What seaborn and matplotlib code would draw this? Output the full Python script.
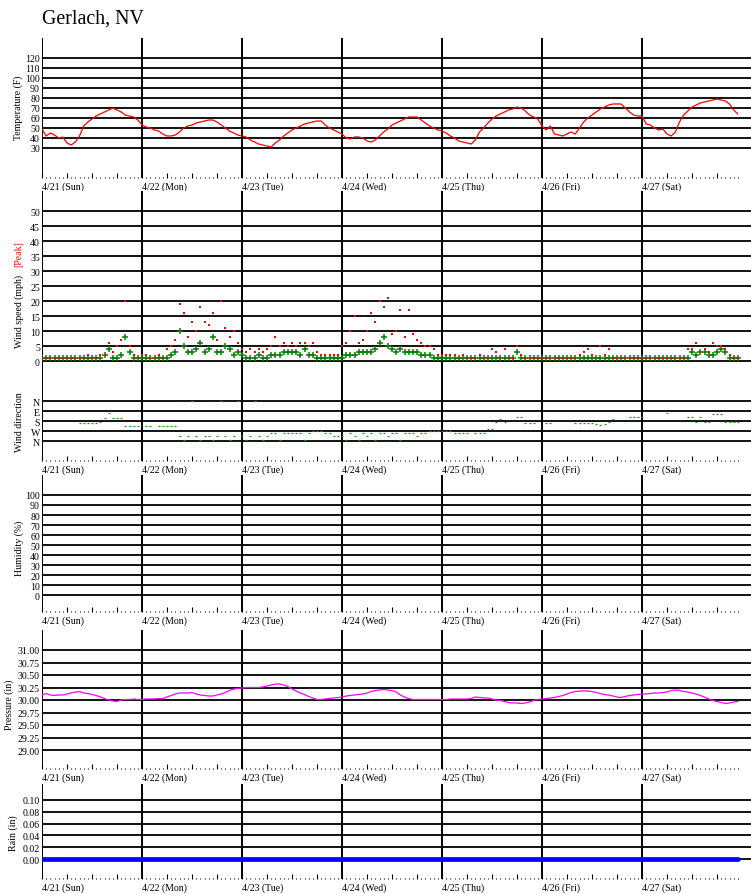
import numpy as np
import matplotlib
matplotlib.use("Agg")
import matplotlib.pyplot as plt
from matplotlib.ticker import FixedLocator, FormatStrFormatter
import seaborn as sns

sns.set_style("white")
plt.rcParams.update({
    "font.family": ["Liberation Serif", "DejaVu Serif"],
    "font.size": 7.1,
    "axes.facecolor": "white",
    "figure.facecolor": "white",
    "text.color": "black",
    "ytick.color": "black",
})

nan = np.nan

station = "Gerlach, NV"
day_labels = ["4/21 (Sun)", "4/22 (Mon)", "4/23 (Tue)", "4/24 (Wed)",
              "4/25 (Thu)", "4/26 (Fri)", "4/27 (Sat)"]

# hourly readings, 4/21 00:00 .. 4/27 23:00
temp_f = [
    49, 42, 45, 43, 40, 41, 35, 33, 36, 42, 52, 56, 59, 62, 64, 66, 68, 70, 68, 66, 63, 62, 61, 58,
    53, 51, 50, 48, 47, 44, 42, 42, 43, 46, 50, 52, 53, 55, 56, 57, 58, 58, 56, 53, 50, 47, 45, 43,
    42, 41, 38, 36, 34, 33, 32, 31, 35, 38, 42, 45, 48, 50, 52, 54, 55, 56, 57, 57, 53, 50, 48, 46,
    44, 40, 39, 41, 41, 40, 37, 36, 38, 42, 46, 49, 53, 55, 57, 59, 61, 61, 61, 58, 55, 52, 50, 48,
    47, 45, 42, 40, 37, 36, 35, 34, 38, 46, 50, 55, 59, 62, 64, 66, 68, 69, 71, 70, 67, 63, 61, 59,
    52, 48, 52, 44, 43, 42, 44, 46, 44, 50, 56, 60, 63, 66, 69, 71, 73, 74, 74, 74, 70, 66, 63, 62,
    62, 54, 53, 50, 48, 49, 44, 42, 46, 56, 63, 67, 71, 73, 75, 76, 77, 78, 79, 78, 77, 74, 68, 64,
]

wind_avg = [
    1, 1, 1, 1, 1, 1, 1, 1, 1, 1, 1, 1, 1, 1, 1, 2, 4, 1, 1, 2, 8, 3, 1, 1,
    1, 1, 1, 1, 1, 1, 1, 2, 3, 10, 5, 3, 3, 4, 6, 3, 4, 8, 3, 3, 5, 4, 2, 3,
    2, 1, 1, 1, 2, 1, 1, 2, 2, 2, 3, 3, 3, 3, 2, 4, 2, 2, 1, 1, 1, 1, 1, 1,
    1, 2, 2, 2, 3, 3, 3, 3, 4, 6, 8, 5, 4, 3, 4, 3, 3, 3, 3, 2, 2, 2, 1, 1,
    1, 1, 1, 1, 1, 1, 1, 1, 1, 1, 1, 1, 1, 1, 1, 1, 1, 1, 3, 1, 1, 1, 1, 1,
    1, 1, 1, 1, 1, 1, 1, 1, 1, 1, 1, 1, 1, 1, 1, 1, 1, 1, 1, 1, 1, 1, 1, 1,
    1, 1, 1, 1, 1, 1, 1, 1, 1, 1, 1, 1, 3, 2, 3, 3, 2, 2, 3, 4, 3, 1, 1, 1,
]

wind_peak = [
    1, 1, 1, 1, 1, 1, 1, 1, 1, 1, 1, 2, 1, 1, 2, 2, 6, 3, 5, 7, 20, 5, 2, 1,
    2, 2, 1, 1, 2, 1, 4, 5, 7, 19, 16, 8, 13, 10, 18, 13, 12, 16, 7, 20, 11, 8, 10, 6,
    4, 3, 4, 3, 4, 3, 4, 5, 8, 5, 6, 5, 6, 5, 6, 6, 5, 6, 3, 2, 2, 2, 2, 2,
    5, 6, 10, 15, 6, 7, 10, 16, 13, 20, 18, 21, 9, 10, 17, 8, 17, 9, 7, 6, 5, 5, 4, 2,
    2, 2, 2, 2, 1, 2, 1, 1, 1, 2, 1, 1, 4, 3, 1, 4, 1, 1, 5, 2, 1, 1, 1, 1,
    1, 1, 1, 1, 1, 1, 1, 1, 1, 2, 3, 4, 2, 1, 5, 2, 4, 1, 1, 1, 1, 1, 1, 1,
    1, 1, 1, 1, 1, 1, 1, 1, 1, 1, 1, 4, 4, 6, 3, 4, 3, 6, 5, 5, 4, 2, 1, 1,
]

wind_dir = [
    nan, nan, nan, nan, nan, nan, nan, nan, nan, 201, 201, 201, 201, 201, 186, 155, 108, 155, 155, 155, 225, 225, 225, 225,
    nan, 225, 225, nan, 225, 225, 225, 225, 225, 315, 348, 315, 0, 315, 348, 315, 315, 348, 315, 0, 315, 348, 315, 0,
    315, 348, 315, 0, 315, 348, 315, 288, 288, 348, 288, 288, 288, 288, 288, 348, 288, 270, 270, 270, 288, 288, 315, 315,
    315, 348, 288, 315, 348, 288, 315, 288, 348, 288, 288, 315, 288, 288, 348, 288, 288, 288, 315, 288, 288, 270, 270, 270,
    270, 270, 270, 290, 290, 290, 290, nan, 290, 290, 290, 252, 252, 186, 162, 186, nan, nan, 140, 140, 201, 201, 201, nan,
    nan, 201, 201, nan, nan, nan, nan, nan, 201, 201, 201, 201, 201, 210, 220, 210, 186, 162, nan, nan, nan, 140, 140, 140,
    140, nan, nan, nan, nan, nan, 108, nan, nan, nan, nan, 140, 140, 186, 140, 186, 186, 120, 120, 120, 186, 186, 186, 186,
]

humidity = []  # no humidity reported this week

pressure_in = [
    30.10, 30.13, 30.10, 30.09, 30.10, 30.10, 30.12, 30.14, 30.16, 30.17, 30.14, 30.13,
    30.11, 30.09, 30.06, 30.03, 30.00, 29.98, 29.97, 30.00, 30.01, 30.01, 30.02, 30.01,
    30.01, 30.02, 30.02, 30.02, 30.03, 30.03, 30.06, 30.09, 30.12, 30.14, 30.14, 30.14,
    30.15, 30.12, 30.10, 30.09, 30.08, 30.08, 30.10, 30.12, 30.15, 30.19, 30.22, 30.23,
    30.24, 30.25, 30.25, 30.25, 30.25, 30.26, 30.28, 30.30, 30.32, 30.32, 30.30, 30.27,
    30.22, 30.18, 30.14, 30.11, 30.07, 30.04, 30.01, 30.01, 30.02, 30.03, 30.04, 30.05,
    30.06, 30.08, 30.09, 30.10, 30.11, 30.12, 30.14, 30.17, 30.19, 30.20, 30.21, 30.20,
    30.19, 30.16, 30.10, 30.06, 30.03, 30.01, 30.01, 30.01, 30.01, 30.01, 30.01, 30.01,
    30.01, 30.01, 30.02, 30.02, 30.02, 30.02, 30.02, 30.03, 30.06, 30.05, 30.04, 30.04,
    30.02, 30.00, 29.99, 29.97, 29.95, 29.94, 29.94, 29.93, 29.94, 29.96, 29.99, 30.01,
    30.02, 30.03, 30.04, 30.05, 30.07, 30.09, 30.12, 30.15, 30.17, 30.18, 30.18, 30.18,
    30.17, 30.15, 30.13, 30.11, 30.10, 30.08, 30.06, 30.05, 30.07, 30.09, 30.10, 30.11,
    30.12, 30.12, 30.13, 30.14, 30.14, 30.15, 30.16, 30.19, 30.20, 30.19, 30.17, 30.16,
    30.14, 30.12, 30.09, 30.06, 30.02, 29.99, 29.97, 29.95, 29.93, 29.94, 29.96, 29.97,
]

rain_in = [0.0] * 168

temp_ticks = [30, 40, 50, 60, 70, 80, 90, 100, 110, 120]
wind_ticks = [0, 5, 10, 15, 20, 25, 30, 35, 40, 45, 50]
dir_ticks = [0, 90, 180, 270, 360]
dir_labels = ["N", "E", "S", "W", "N"]
hum_ticks = [0, 10, 20, 30, 40, 50, 60, 70, 80, 90, 100]
pres_ticks = [29.00, 29.25, 29.50, 29.75, 30.00, 30.25, 30.50, 30.75, 31.00]
rain_ticks = [0.00, 0.02, 0.04, 0.06, 0.08, 0.10]

hours = np.arange(len(temp_f))

W, H = 751, 895
LEFT = 42
fig = plt.figure(figsize=(W / 100, H / 100), dpi=100)


def panel(top, bottom):
    return fig.add_axes([LEFT / W, 1 - bottom / H, (W - LEFT) / W, (bottom - top) / H])


def style_panel(ax, ylim, yticks, fmt=None, tick_row=True):
    ax.set_xlim(0, (W - LEFT) / 100 * 24)
    ax.set_ylim(*ylim)
    ax.set_yticks(yticks)
    if fmt:
        ax.yaxis.set_major_formatter(FormatStrFormatter(fmt))
    ax.set_xlabel("")
    ax.set_ylabel("")
    for s in ax.spines.values():
        s.set_visible(False)
    ax.yaxis.grid(True, color="black", lw=1.3, zorder=0)
    ax.xaxis.grid(False)
    ax.tick_params(axis="y", length=0, pad=1.5, labelsize=7.1)
    for d in range(len(day_labels)):
        ax.axvline(d * 24, color="black", lw=1.4, zorder=1)
    if tick_row:
        ax.xaxis.set_major_locator(FixedLocator(hours[::6]))
        ax.xaxis.set_minor_locator(FixedLocator(hours))
        ax.tick_params(axis="x", which="major", direction="in", length=3.8,
                       width=0.8, bottom=True, labelbottom=False, color="black")
        ax.tick_params(axis="x", which="minor", direction="in", length=0.8,
                       width=0.8, bottom=True, color="black")
        for d, lab in enumerate(day_labels):
            ax.annotate(lab, xy=(d * 24, 0), xycoords=("data", "axes fraction"),
                        xytext=(0, -3), textcoords="offset pixels",
                        ha="left", va="top", fontsize=7.1, annotation_clip=False)
    else:
        ax.tick_params(axis="x", which="both", bottom=False, labelbottom=False)


def ylabel(x, y, text, color="black"):
    fig.text(x / W, 1 - y / H, text, rotation=90, ha="center", va="center",
             fontsize=7.1, color=color)


fig.text(LEFT / W, 1 - 19 / H, station, ha="left", va="center", fontsize=14.3)

# temperature
ax_t = panel(39, 179)
sns.lineplot(x=hours, y=temp_f, color="#ff0000", lw=0.9, ax=ax_t, zorder=3)
style_panel(ax_t, (0, 140), temp_ticks)
ylabel(18, 108, "Temperature (F)")

# wind speed: average (green +) with peak readings (red)
ax_w = panel(192, 380)
sns.scatterplot(x=hours, y=wind_avg, marker="+", s=24, color="#008000",
                linewidth=1.1, ax=ax_w, zorder=3)
sns.scatterplot(x=hours, y=wind_peak, marker="s", s=2.5, color="#ff0000",
                linewidth=0, ax=ax_w, zorder=4)
style_panel(ax_w, (-6, 56.67), wind_ticks, tick_row=False)
ylabel(19, 312, "Wind speed (mph)")
ylabel(19, 254, "[Peak]", color="#ff0000")

# wind direction
ax_d = panel(380, 462)
sns.scatterplot(x=hours, y=wind_dir, marker="_", s=4, color="#1f9a1f",
                linewidth=0.9, ax=ax_d, zorder=3)
style_panel(ax_d, (540, -198), dir_ticks)
ax_d.set_yticklabels(dir_labels)
ylabel(19, 422, "Wind direction")

# humidity
ax_h = panel(476, 613)
if humidity:
    sns.lineplot(x=hours[:len(humidity)], y=humidity, color="#0000ff", lw=0.9, ax=ax_h)
style_panel(ax_h, (-17, 120), hum_ticks)
ylabel(19, 548, "Humidity (%)")

# pressure
ax_p = panel(631, 770)
sns.lineplot(x=hours, y=pressure_in, color="#ff00ff", lw=0.9, ax=ax_p, zorder=3)
style_panel(ax_p, (28.62, 31.4), pres_ticks, fmt="%.2f")
ylabel(9, 705, "Pressure (in)")

# rain
ax_r = panel(785, 880)
sns.lineplot(x=hours, y=rain_in, color="#0000ff", lw=3.4, ax=ax_r, zorder=3)
style_panel(ax_r, (-0.0334, 0.1268), rain_ticks, fmt="%.2f")
ylabel(13, 833, "Rain (in)")

fig.savefig("out.png", dpi=100)
